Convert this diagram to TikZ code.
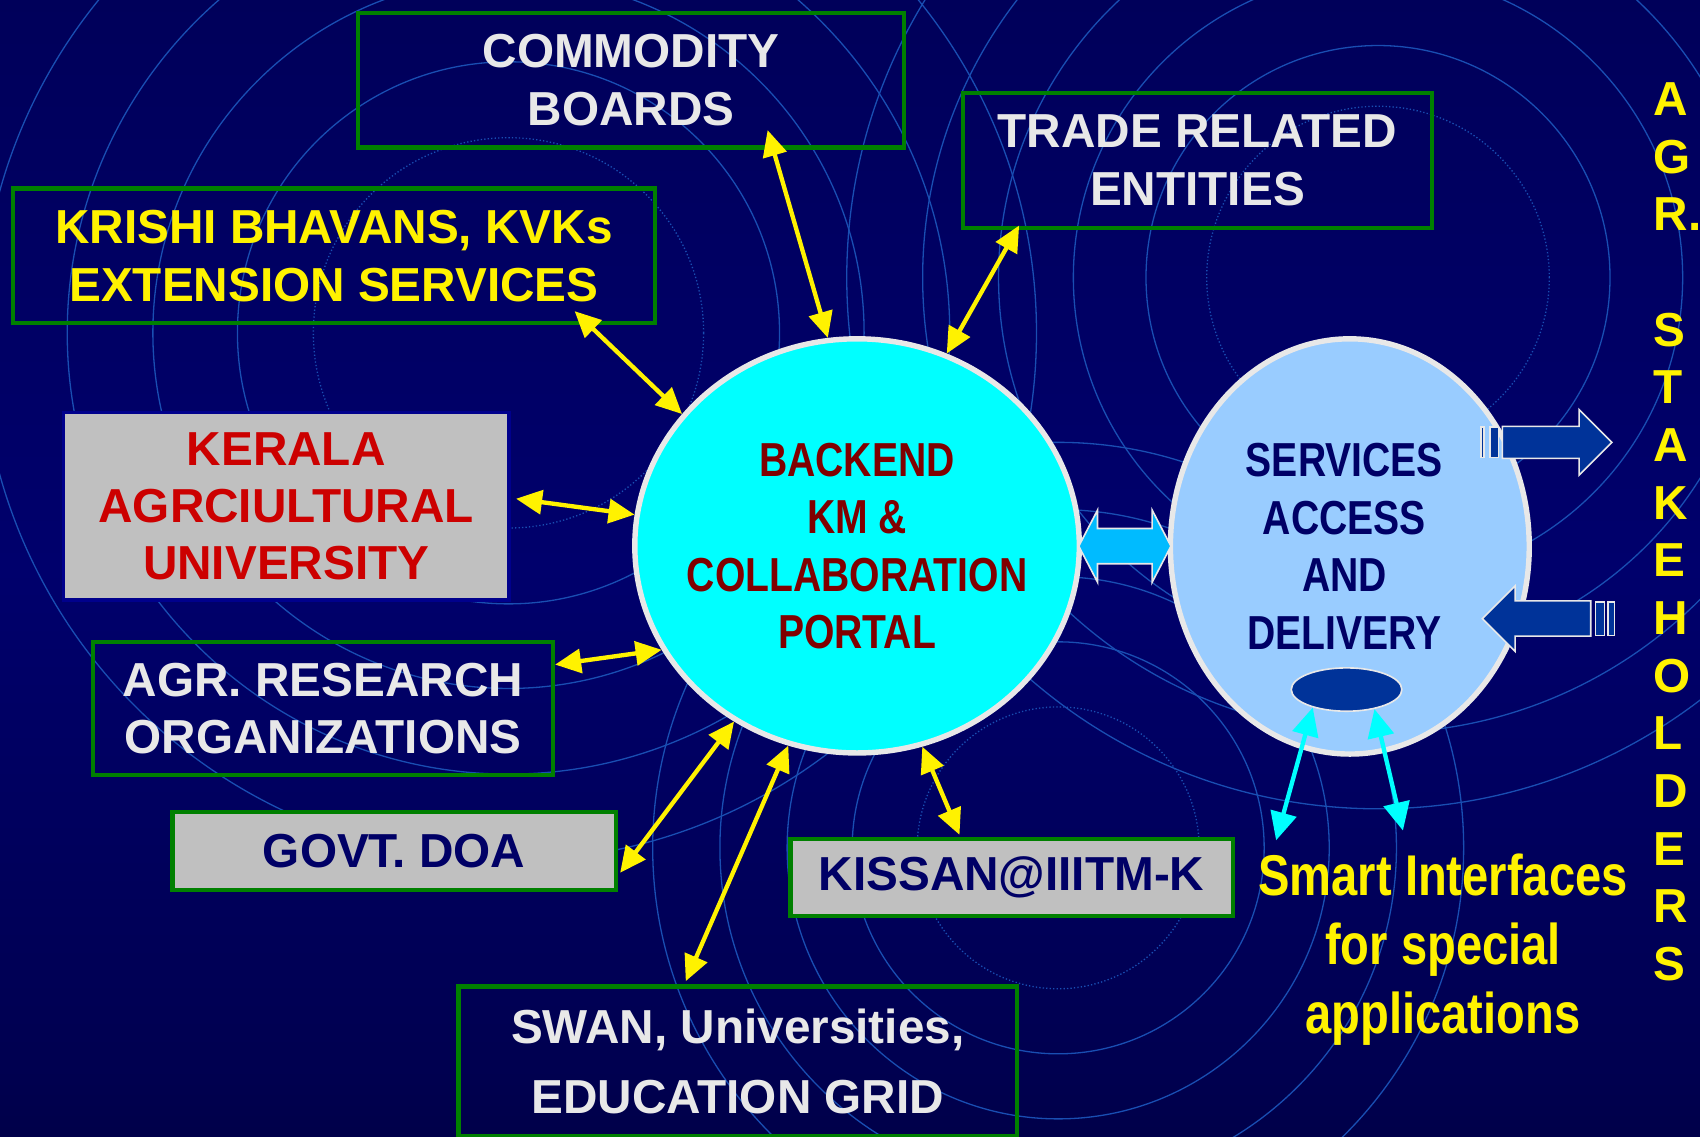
\documentclass[tikz,border=0pt]{standalone}
\usepackage{fontspec}
\setmainfont{Liberation Sans}
\newfontfamily\narrowfont[FakeStretch=0.82]{Liberation Sans}
\usetikzlibrary{arrows.meta, positioning, shapes.geometric, shapes.arrows, calc}

\definecolor{bgtop}{RGB}{3,3,42}
\definecolor{bghigh}{RGB}{0,0,88}
\definecolor{bgmid}{RGB}{0,0,108}
\definecolor{bglow}{RGB}{0,0,80}
\definecolor{bgbot}{RGB}{0,0,20}
\pgfdeclareverticalshading{bgfade}{100bp}{color(0bp)=(bgbot); color(28bp)=(bglow); color(50bp)=(bgmid); color(78bp)=(bghigh); color(100bp)=(bgtop)}
\definecolor{ringblue}{RGB}{25,78,178}
\definecolor{boxgreen}{RGB}{0,128,0}
\definecolor{paleline}{RGB}{232,232,232}
\definecolor{boxgray}{RGB}{192,192,192}
\definecolor{navytext}{RGB}{0,0,102}
\definecolor{portalred}{RGB}{128,0,0}
\definecolor{kaured}{RGB}{204,0,0}
\definecolor{kaublue}{RGB}{0,0,140}
\definecolor{portalcyan}{RGB}{0,255,255}
\definecolor{servblue}{RGB}{153,204,255}
\definecolor{linkblue}{RGB}{0,187,255}
\definecolor{hubblue}{RGB}{0,51,153}

\begin{document}
\begin{tikzpicture}[
  x=1pt, y=-1pt,
  font=\bfseries\fontsize{44}{53}\selectfont,
  box/.style={draw=boxgreen, line width=4pt, align=center, inner sep=0pt, text=paleline},
  graybox/.style={box, fill=boxgray, text=navytext},
  blob/.style={ellipse, draw=paleline, line width=5pt, inner sep=0pt},
  narrow/.style={font=\narrowfont\bfseries\fontsize{44}{53}\selectfont, align=center, inner sep=0pt},
  fat/.style={draw=paleline, line width=1.5pt, inner xsep=0pt},
  stripe/.style={fat, rectangle, fill=hubblue, inner sep=0pt},
  ring/.style={draw=ringblue, line width=1.2pt},
  yarrow/.style={{Triangle[length=24pt,width=22pt]}-{Triangle[length=24pt,width=22pt]}, line width=4pt, yellow},
  carrow/.style={{Triangle[length=26pt,width=24pt]}-{Triangle[length=26pt,width=24pt]}, line width=4pt, portalcyan}
]
\useasboundingbox (0,0) rectangle (1568,1048);
\shade[shading=bgfade] (0,0) rectangle (1568,1048);

\begin{scope}
\clip (0,0) rectangle (1568,1048);
\draw[ring, dotted] (469,307) circle[radius=180pt] (1271,256) circle[radius=158pt] (976,782) circle[radius=130pt];
\draw[ring] (469,307) circle[radius=250pt] circle[radius=328pt] circle[radius=407pt] circle[radius=487pt];
\draw[ring] (1271,256) circle[radius=214pt] circle[radius=281pt] circle[radius=350pt] circle[radius=420pt] circle[radius=490pt];
\draw[ring] (976,782) circle[radius=190pt] circle[radius=250pt] circle[radius=312pt] circle[radius=374pt];
\end{scope}

\node[box, minimum width=504pt, minimum height=124pt] (commodity) at (582,74) {COMMODITY\\BOARDS};
\node[box, minimum width=433pt, minimum height=124pt] (trade) at (1104.5,148) {TRADE RELATED\\ENTITIES};
\node[box, minimum width=592pt, minimum height=124pt, text=yellow] (krishi) at (308,236) {KRISHI BHAVANS, KVKs\\EXTENSION SERVICES};
\node[graybox, draw=kaublue, line width=3pt, minimum width=411pt, minimum height=173pt, text=kaured] (kau) at (264,467) {KERALA\\AGRCIULTURAL\\UNIVERSITY};
\node[box, minimum width=424pt, minimum height=123pt] (research) at (298,653.5) {AGR. RESEARCH\\ORGANIZATIONS};
\node[graybox, minimum width=409pt, minimum height=72pt] (doa) at (363.5,785) {GOVT. DOA};
\node[box, minimum width=515pt, minimum height=138pt, font=\bfseries\fontsize{44}{64}\selectfont] (swan) at (680.5,979) {SWAN, Universities,\\EDUCATION GRID};
\node[graybox, minimum width=408pt, minimum height=71pt] (kissan) at (933,809.5) {KISSAN@IIITM-K};

\node[blob, fill=portalcyan, minimum width=410pt, minimum height=382pt] (portal) at (790.5,503.5) {};
\node[narrow, text=portalred] (portaltext) at (portal) {BACKEND\\KM \&\\COLLABORATION\\PORTAL};
\node[blob, fill=servblue, minimum width=331pt, minimum height=383pt] (services) at (1245,504) {};
\node[narrow, text=navytext] (servicestext) at ([xshift=-5pt]services.center) {SERVICES\\ACCESS\\AND\\DELIVERY};
\node[blob, line width=1.5pt, fill=hubblue, minimum width=102pt, minimum height=40pt] (hub) at (1242,636) {};

\node[fat, double arrow, fill=linkblue, inner ysep=15.5pt, minimum height=85pt, double arrow head extend=17pt, double arrow tip angle=125] (link) at ($(portal.east)!0.5!(services.west)$) {};

\node[fat, single arrow, fill=hubblue, inner ysep=14pt, minimum height=101pt, single arrow head extend=15.5pt, anchor=tail] (outflow) at (1385,408) {};
\node[stripe, minimum width=8pt, minimum height=28pt, left=2pt of outflow.tail] (outbar) {};
\node[stripe, minimum width=3pt, minimum height=28pt, left=4pt of outbar] (outbarthin) {};
\node[fat, single arrow, fill=hubblue, inner ysep=15.5pt, minimum height=100pt, single arrow head extend=14pt, shape border rotate=180, anchor=tail] (inflow) at (1468,570.5) {};
\node[stripe, minimum width=8pt, minimum height=31pt, right=3pt of inflow.tail] (inbar) {};
\node[stripe, minimum width=6pt, minimum height=31pt, right=2pt of inbar] (inbarthin) {};

\node[narrow, text=yellow, font=\narrowfont\bfseries\fontsize{53}{64}\selectfont] (smart) at (1331,876) {Smart Interfaces\\for special\\applications};
\node[text=yellow, align=left, anchor=north west, inner sep=0pt, font=\bfseries\fontsize{44}{53.2}\selectfont] (stake) at (1525,76) {A\\G\\R.\\\mbox{}\\S\\T\\A\\K\\E\\H\\O\\L\\D\\E\\R\\S};

\draw[yarrow] ([xshift=126pt,yshift=18pt]commodity.south) -- (portal.98);
\draw[yarrow] ([xshift=54pt,yshift=4pt]trade.south west) -- (portal.65);
\draw[yarrow] ([xshift=-76pt,yshift=13pt]krishi.south east) -- (portal.143);
\draw[yarrow] ([xshift=5pt,yshift=7pt]kau.east) -- (portal.172);
\draw[yarrow] ([yshift=-23pt]research.north east) -- (portal.208);
\draw[yarrow] ([xshift=2pt,yshift=18pt]doa.south east) -- (portal.235);
\draw[yarrow] ([xshift=-48pt,yshift=3pt]swan.north) -- (portal.251);
\draw[yarrow] ([xshift=-48pt,yshift=2pt]kissan.north) -- (portal.288);
\draw[carrow] (hub.208) -- ([xshift=-154pt,yshift=12pt]smart.north);
\draw[carrow] (hub.325) -- ([xshift=-37pt,yshift=21pt]smart.north);
\end{tikzpicture}
\end{document}
